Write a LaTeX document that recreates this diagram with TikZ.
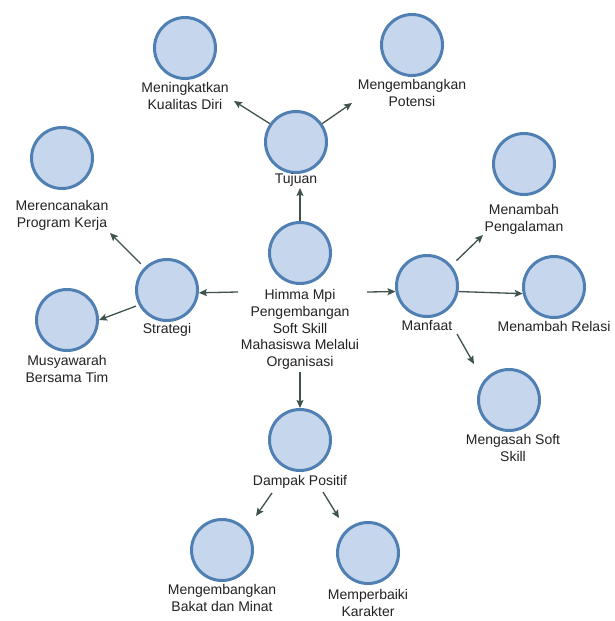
\documentclass[tikz,border=0pt]{standalone}
\usepackage{fontspec}
\setmainfont{Liberation Sans}
\usetikzlibrary{arrows.meta}
\definecolor{cfill}{HTML}{C6D6EC}
\definecolor{cline}{HTML}{5080B3}
\definecolor{carrow}{HTML}{3F524D}
\definecolor{ctext}{HTML}{222222}
\begin{document}
\begin{tikzpicture}[x=1pt,y=-1pt,
  bub/.style={circle,draw=cline,fill=cfill,line width=3pt,minimum size=61pt,inner sep=0pt},
  lab/.style={anchor=north,inner sep=0pt,align=center,text=ctext,font=\fontsize{14}{16.7}\selectfont},
  arr/.style={draw=carrow,line width=1.3pt,-{Stealth[length=8pt,width=7pt,inset=1.5pt]}}]
\fill[white] (0,0) rectangle (614,621);
\useasboundingbox (0,0) rectangle (614,621);
% circles
\node[bub] (cen) at (300,253) {};
\node[bub] (tuj) at (296,142) {};
\node[bub] (men) at (185,48) {};
\node[bub] (pot) at (412,45) {};
\node[bub] (mer) at (62,158) {};
\node[bub] (mus) at (67,320) {};
\node[bub] (str) at (167,290) {};
\node[bub] (man) at (427,286) {};
\node[bub] (png) at (524,164) {};
\node[bub] (rel) at (554,287) {};
\node[bub] (mgs) at (509,400) {};
\node[bub] (dam) at (300,440) {};
\node[bub] (bak) at (222,550) {};
\node[bub] (prb) at (368,553) {};
% labels
\node[lab] (cenL) at (300,289.5) {Himma Mpi\\Pengembangan\\Soft Skill\\Mahasiswa Melalui\\Organisasi};
\node[lab] (tujL) at (296,173.5) {Tujuan};
\node[lab] (menL) at (185,82.5) {Meningkatkan\\Kualitas Diri};
\node[lab] (potL) at (412,79.5) {Mengembangkan\\Potensi};
\node[lab] (merL) at (62,200.5) {Merencanakan\\Program Kerja};
\node[lab] (musL) at (67,355.5) {Musyawarah\\Bersama Tim};
\node[lab] (strL) at (167,323.5) {Strategi};
\node[lab] (manL) at (427,320.5) {Manfaat};
\node[lab] (pngL) at (524,204.5) {Menambah\\Pengalaman};
\node[lab] (relL) at (554,321.5) {Menambah Relasi};
\node[lab] (mgsL) at (513,434.5) {Mengasah Soft\\Skill};
\node[lab] (damL) at (300,475.5) {Dampak Positif};
\node[lab] (bakL) at (222,584.5) {Mengembangkan\\Bakat dan Minat};
\node[lab] (prbL) at (368,589.5) {Memperbaiki\\Karakter};
% connector free ends
\coordinate (p2) at (234,101);
\coordinate (p3) at (352,103);
\coordinate (s4) at (238,292);
\coordinate (s5) at (367,292);
\coordinate (p6) at (110,233);
\coordinate (p8) at (483,235);
\coordinate (s10) at (457,334);
\coordinate (p10) at (474,364);
\coordinate (s12) at (272,493);
\coordinate (p12) at (256,516);
\coordinate (s13) at (323,492);
\coordinate (p13) at (339,518);
% connectors
\draw[arr,shorten >=1pt] (cen.north) -- (cen.north |- tujL.south);
\draw[arr] (tuj.145) -- (p2);
\draw[arr] (tuj.35) -- (p3);
\draw[arr] (s4) -- (str.355);
\draw[arr] (s5) -- (man.190);
\draw[arr,shorten <=5pt] (str.135) -- (p6);
\draw[arr,shorten <=3pt] (str.208) -- (mus.east);
\draw[arr,shorten <=7pt] (man.40) -- (p8);
\draw[arr] (man.350) -- (rel.192);
\draw[arr] (s10) -- (p10);
\draw[arr,shorten <=2pt] (cenL.south) -- (dam.north);
\draw[arr] (s12) -- (p12);
\draw[arr] (s13) -- (p13);
\end{tikzpicture}
\end{document}
